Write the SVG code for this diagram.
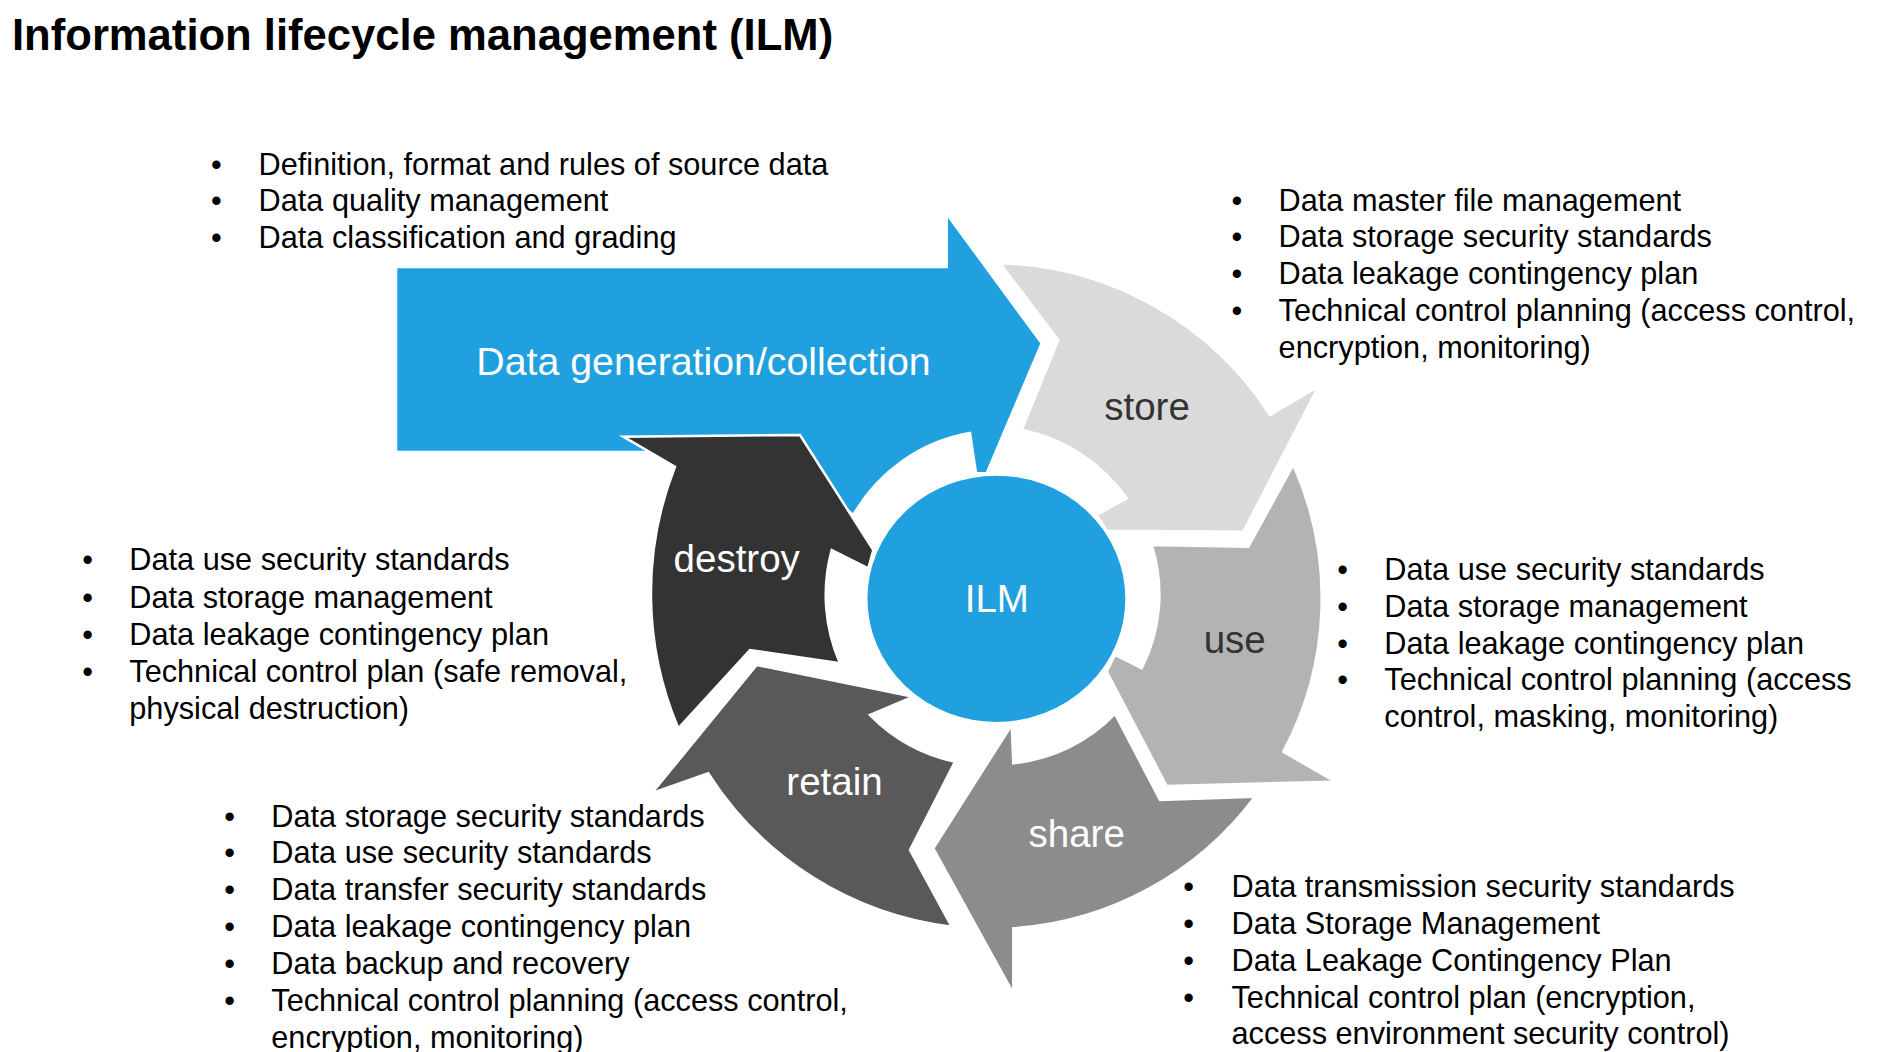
<svg xmlns="http://www.w3.org/2000/svg" width="1894" height="1052" viewBox="0 0 1894 1052">
<style>
.t{font-family:"Liberation Sans",Arial,sans-serif}
.title{font-size:43.6px;font-weight:bold;fill:#000}
.b{font-size:30.7px;fill:#000}
.lbl{font-size:38.5px;text-anchor:middle}
.seg{stroke:#fff;stroke-width:2.5;stroke-linejoin:miter}
</style>
<rect width="1894" height="1052" fill="#fff"/>
<text class="t title" x="12" y="49.5">Information lifecycle management (ILM)</text>

<g id="connectors"></g>

<g id="node-generation">
<path class="seg" fill="#20A0DE" d="M396,267 L946.7,267 L946.7,214 L1041.7,343.3 L986.7,473.3 L976,473.3 L970,433 A167,167 0 0 0 853.3,515 L780,452 L396,452 Z"/>
<text class="t" x="703.5" y="375" font-size="39.3" fill="#fff" text-anchor="middle">Data generation/collection</text>
</g>

<g id="node-store">
<path class="seg" fill="#DADADA" d="M1000,263.3 A332,332 0 0 1 1270,415 L1318.3,386.7 L1243.3,531.7 L1106.7,530.7 L1096.7,515 L1126.7,498.3 A167,167 0 0 0 1021.7,430 L1058.3,340 Z"/>
<text class="t lbl" x="1147" y="420" fill="#333">store</text>
</g>

<g id="node-use">
<path class="seg" fill="#B3B3B3" d="M1151.7,545 L1248.3,546.7 L1293.3,465 A326,326 0 0 1 1283.3,751.7 L1335,781.7 L1166.7,786 L1106.7,671.7 L1115,655 L1141.7,668.3 A163,163 0 0 0 1151.7,545 Z"/>
<text class="t lbl" x="1234.7" y="652.7" fill="#333">use</text>
</g>

<g id="node-share">
<path class="seg" fill="#8C8C8C" d="M1115,714 L1160,800 L1255,796.7 A330,330 0 0 1 1013.3,928.3 L1013.3,993.3 L933.3,848.3 L1011.7,725 L1013.3,763.3 A163,163 0 0 0 1115,714 Z"/>
<text class="t lbl" x="1076.7" y="846.7" fill="#fff">share</text>
</g>

<g id="node-retain">
<path class="seg" fill="#595959" d="M955,761.7 L910,850 L951.7,926.7 A337,337 0 0 1 708.3,773.3 L651.7,793.3 L756.7,665 L913.3,696.7 L870,715 A170,170 0 0 0 955,761.7 Z"/>
<text class="t lbl" x="834.5" y="795" fill="#fff">retain</text>
</g>

<g id="node-destroy">
<path class="seg" fill="#333333" d="M840,663.3 L750,650 L678.3,728.3 A346,346 0 0 1 675,466.7 L623.3,436.7 L800,435 L873.3,550 L868.3,568.3 L831.7,550 A171,171 0 0 0 840,663.3 Z"/>
<text class="t lbl" x="736.7" y="571.7" fill="#fff">destroy</text>
</g>

<g id="node-ilm">
<ellipse cx="996.4" cy="598.8" rx="129.7" ry="123.9" fill="#20A0DE" stroke="#fff" stroke-width="1.5"/>
<text class="t lbl" x="996.8" y="612.3" fill="#fff">ILM</text>
</g>

<g id="notes-generation">
<text class="t b"><tspan x="211" y="174.5">•</tspan><tspan x="258.6" y="174.5">Definition, format and rules of source data</tspan><tspan x="211" y="211.4">•</tspan><tspan x="258.6" y="211.4">Data quality management</tspan><tspan x="211" y="248.3">•</tspan><tspan x="258.6" y="248.3">Data classification and grading</tspan></text>
</g>

<g id="notes-store">
<text class="t b"><tspan x="1231.6" y="210.5">•</tspan><tspan x="1278.6" y="210.5">Data master file management</tspan><tspan x="1231.6" y="247.4">•</tspan><tspan x="1278.6" y="247.4">Data storage security standards</tspan><tspan x="1231.6" y="284.3">•</tspan><tspan x="1278.6" y="284.3">Data leakage contingency plan</tspan><tspan x="1231.6" y="321.2">•</tspan><tspan x="1278.6" y="321.2">Technical control planning (access control,</tspan><tspan x="1278.6" y="358.1">encryption, monitoring)</tspan></text>
</g>

<g id="notes-use">
<text class="t b"><tspan x="1337.2" y="579.7">•</tspan><tspan x="1384.3" y="579.7">Data use security standards</tspan><tspan x="1337.2" y="616.6">•</tspan><tspan x="1384.3" y="616.6">Data storage management</tspan><tspan x="1337.2" y="653.5">•</tspan><tspan x="1384.3" y="653.5">Data leakage contingency plan</tspan><tspan x="1337.2" y="690.4">•</tspan><tspan x="1384.3" y="690.4">Technical control planning (access</tspan><tspan x="1384.3" y="727.3">control, masking, monitoring)</tspan></text>
</g>

<g id="notes-share">
<text class="t b"><tspan x="1183.2" y="896.8">•</tspan><tspan x="1231.5" y="896.8">Data transmission security standards</tspan><tspan x="1183.2" y="933.7">•</tspan><tspan x="1231.5" y="933.7">Data Storage Management</tspan><tspan x="1183.2" y="970.6">•</tspan><tspan x="1231.5" y="970.6">Data Leakage Contingency Plan</tspan><tspan x="1183.2" y="1007.5">•</tspan><tspan x="1231.5" y="1007.5">Technical control plan (encryption,</tspan><tspan x="1231.5" y="1044.4">access environment security control)</tspan></text>
</g>

<g id="notes-retain">
<text class="t b"><tspan x="224.2" y="826.5">•</tspan><tspan x="271.3" y="826.5">Data storage security standards</tspan><tspan x="224.2" y="863.4">•</tspan><tspan x="271.3" y="863.4">Data use security standards</tspan><tspan x="224.2" y="900.3">•</tspan><tspan x="271.3" y="900.3">Data transfer security standards</tspan><tspan x="224.2" y="937.2">•</tspan><tspan x="271.3" y="937.2">Data leakage contingency plan</tspan><tspan x="224.2" y="974.1">•</tspan><tspan x="271.3" y="974.1">Data backup and recovery</tspan><tspan x="224.2" y="1011">•</tspan><tspan x="271.3" y="1011">Technical control planning (access control,</tspan><tspan x="271.3" y="1047.9">encryption, monitoring)</tspan></text>
</g>

<g id="notes-destroy">
<text class="t b"><tspan x="82.3" y="570.3">•</tspan><tspan x="129.3" y="570.3">Data use security standards</tspan><tspan x="82.3" y="607.5">•</tspan><tspan x="129.3" y="607.5">Data storage management</tspan><tspan x="82.3" y="645">•</tspan><tspan x="129.3" y="645">Data leakage contingency plan</tspan><tspan x="82.3" y="682">•</tspan><tspan x="129.3" y="682">Technical control plan (safe removal,</tspan><tspan x="129.3" y="718.8">physical destruction)</tspan></text>
</g>
</svg>
